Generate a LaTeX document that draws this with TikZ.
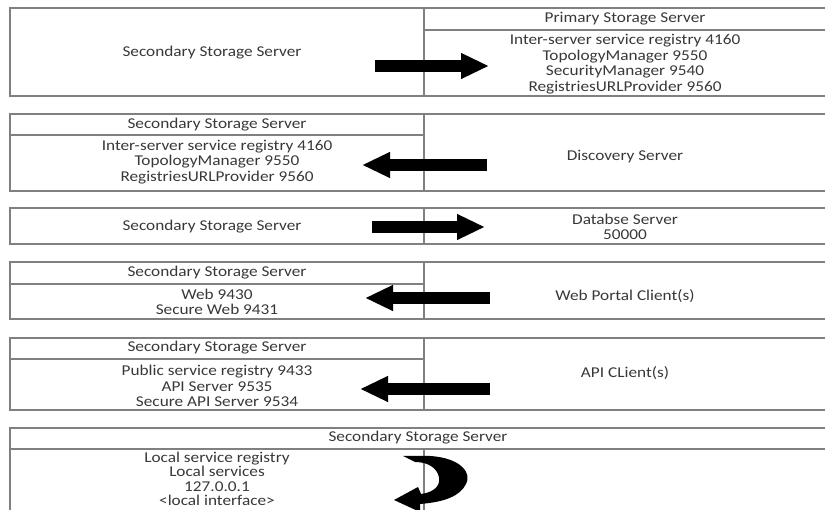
\documentclass[tikz,border=0pt]{standalone}
\usepackage{fontspec}
\setmainfont[FakeStretch=1.15]{Carlito}
\usetikzlibrary{arrows.meta}

\begin{document}
\begin{tikzpicture}[x=1pt, y=-1pt,
  cell/.style={draw=black!50, line width=1.2pt},
  txt/.style={align=center, text=black!78, font=\fontsize{15}{15.5}\selectfont},
  bigarrow/.style={line width=12pt, -{Triangle[length=28pt,width=24pt]}}]
\useasboundingbox (0,0) rectangle (825,510);
% row 1
\draw[cell] (10,8) rectangle (826,96);
\draw[cell] (424,8) -- (424,96);
\draw[cell] (424,30) -- (826,30);
\node[txt] (sec1) at (212,53) {Secondary Storage Server};
\node[txt] (prim) at (625,19) {Primary Storage Server};
\node[txt] (primports) at (625,64) {Inter-server service registry 4160\\TopologyManager 9550\\SecurityManager 9540\\RegistriesURLProvider 9560};
\coordinate (a1s) at (375,66);
\coordinate (a1e) at (489,66);
\draw[bigarrow] (a1s) -- (a1e);
% row 2
\draw[cell] (10,114) rectangle (826,191);
\draw[cell] (424,114) -- (424,191);
\draw[cell] (10,135) -- (424,135);
\node[txt] (sec2) at (217,125) {Secondary Storage Server};
\node[txt] (sec2ports) at (217,162) {Inter-server service registry 4160\\TopologyManager 9550\\RegistriesURLProvider 9560};
\node[txt] (disc) at (625,157) {Discovery Server};
\coordinate (a2s) at (487,165);
\coordinate (a2e) at (362,165);
\draw[bigarrow] (a2s) -- (a2e);
% row 3
\draw[cell] (10,208) rectangle (826,244);
\draw[cell] (424,208) -- (424,244);
\node[txt] (sec3) at (212,227) {Secondary Storage Server};
\node[txt] (db) at (625,227) {Databse Server\\50000};
\coordinate (a3s) at (372,227);
\coordinate (a3e) at (485,227);
\draw[bigarrow] (a3s) -- (a3e);
% row 4
\draw[cell] (10,262) rectangle (826,319);
\draw[cell] (424,262) -- (424,319);
\draw[cell] (10,284) -- (424,284);
\node[txt] (sec4) at (217,273) {Secondary Storage Server};
\node[txt] (sec4ports) at (217,302) {Web 9430\\Secure Web 9431};
\node[txt] (web) at (625,296) {Web Portal Client(s)};
\coordinate (a4s) at (490,298);
\coordinate (a4e) at (365,298);
\draw[bigarrow] (a4s) -- (a4e);
% row 5
\draw[cell] (10,338) rectangle (826,410);
\draw[cell] (424,338) -- (424,410);
\draw[cell] (10,359) -- (424,359);
\node[txt] (sec5) at (217,348) {Secondary Storage Server};
\node[txt] (sec5ports) at (217,386) {Public service registry 9433\\API Server 9535\\Secure API Server 9534};
\node[txt] (api) at (625,373) {API CLient(s)};
\coordinate (a5s) at (490,389);
\coordinate (a5e) at (360,389);
\draw[bigarrow] (a5s) -- (a5e);
% row 6
\draw[cell] (10,428) rectangle (826,540);
\draw[cell] (10,449) -- (826,449);
\draw[cell] (424,449) -- (424,540);
\node[txt] (sec6) at (418,438) {Secondary Storage Server};
\node[txt, font=\fontsize{15}{14.5}\selectfont] (sec6ports) at (217,479) {Local service registry\\Local services\\127.0.0.1\\<local interface>};
% loop back to itself
\fill (403,456) -- (430,456) .. controls (462,458) and (472,474) .. (466,484)
  .. controls (460,496) and (445,502) .. (420,504) -- (420,512) -- (394,500)
  -- (418,487) -- (421,494) .. controls (436,492) and (442,484) .. (438,474)
  .. controls (434,465) and (424,462) .. (415,462) -- cycle;
\end{tikzpicture}
\end{document}
